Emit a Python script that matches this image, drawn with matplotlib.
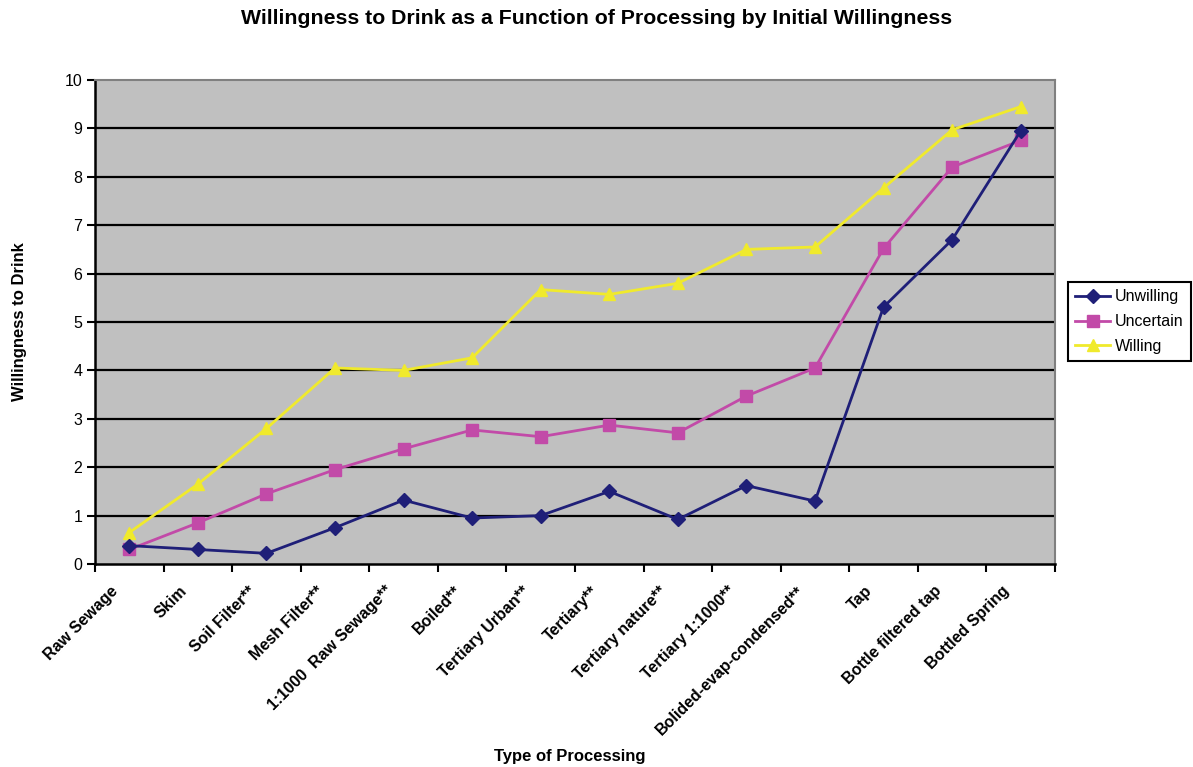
import matplotlib
matplotlib.use("Agg")
import matplotlib.pyplot as plt
import matplotlib.transforms as mtransforms
import numpy as np

plt.rcParams['font.family'] = ['Liberation Sans', 'DejaVu Sans']

categories = ["Raw Sewage", "Skim", "Soil Filter**", "Mesh Filter**", "1:1000  Raw Sewage**",
              "Boiled**", "Tertiary Urban**", "Tertiary**", "Tertiary nature**", "Tertiary 1:1000**",
              "Bolided-evap-condensed**", "Tap", "Bottle filtered tap", "Bottled Spring"]
unwilling = [0.38, 0.30, 0.22, 0.75, 1.32, 0.95, 1.00, 1.50, 0.92, 1.62, 1.30, 5.31, 6.70, 8.95]
uncertain = [0.30, 0.85, 1.45, 1.95, 2.38, 2.77, 2.63, 2.87, 2.71, 3.47, 4.05, 6.52, 8.20, 8.75]
willing = [0.65, 1.65, 2.80, 4.05, 4.00, 4.26, 5.67, 5.57, 5.80, 6.50, 6.55, 7.77, 8.97, 9.45]
y_ticks = list(range(0, 11))

fig = plt.figure(figsize=(11.93, 7.67), dpi=100)
ax = fig.add_axes([95 / 1193, 1 - 564 / 767, 960 / 1193, 484 / 767])
ax.set_facecolor('#c0c0c0')

x = np.arange(len(categories))
ax.plot(x, unwilling, color='#1f1f78', lw=2.0, marker='D', ms=7, label='Unwilling', zorder=5)
ax.plot(x, uncertain, color='#c24aa8', lw=2.0, marker='s', ms=8, label='Uncertain', zorder=4)
ax.plot(x, willing, color='#f0ea2c', lw=2.0, marker='^', ms=9, label='Willing', zorder=3)

ax.set_xlim(-0.5, len(categories) - 0.5)
ax.set_ylim(0, 10)
ax.set_yticks(y_ticks)
ax.set_yticklabels([str(v) for v in y_ticks], fontsize=11.5)
for v in y_ticks[1:-1]:
    ax.axhline(v, color='black', lw=1.6, zorder=1)

# category labels at centers, tick marks at category boundaries
ax.set_xticks(x)
ax.set_xticks(np.arange(-0.5, len(categories), 1.0), minor=True)
ax.tick_params(axis='x', which='major', length=0, pad=14)
ax.tick_params(axis='x', which='minor', length=6, width=1.5, direction='out', color='black')
ax.tick_params(axis='y', length=6, width=1.5, direction='out', color='black', pad=3)
labels = ax.set_xticklabels(categories, rotation=45, ha='right', fontsize=11.5, fontweight='bold')
offset = mtransforms.ScaledTranslation(-8 / 100, 0, fig.dpi_scale_trans)
for lab in labels:
    lab.set_transform(lab.get_transform() + offset)

for side in ('left', 'bottom'):
    ax.spines[side].set_color('black')
    ax.spines[side].set_linewidth(1.8)
for side in ('top', 'right'):
    ax.spines[side].set_color('#808080')
    ax.spines[side].set_linewidth(1.5)

ax.set_xlabel('Type of Processing', fontsize=12, fontweight='bold')
ax.set_ylabel('Willingness to Drink', fontsize=12, fontweight='bold')
ax.xaxis.set_label_coords(0.495, -0.383)
ax.yaxis.set_label_coords(-0.071, 0.5)
fig.text(0.5, 1 - 19 / 767, 'Willingness to Drink as a Function of Processing by Initial Willingness',
         ha='center', va='center', fontsize=15.3, fontweight='bold')

leg = ax.legend(loc='upper left', bbox_to_anchor=(1068 / 1193, 1 - 282 / 767),
                bbox_transform=fig.transFigure, borderaxespad=0, fontsize=11.5,
                fancybox=False, framealpha=1, edgecolor='black', handlelength=2.2,
                labelspacing=0.62, borderpad=0.45, handletextpad=0.3)
leg.get_frame().set_linewidth(1.5)

fig.savefig('out.png', dpi=100)
